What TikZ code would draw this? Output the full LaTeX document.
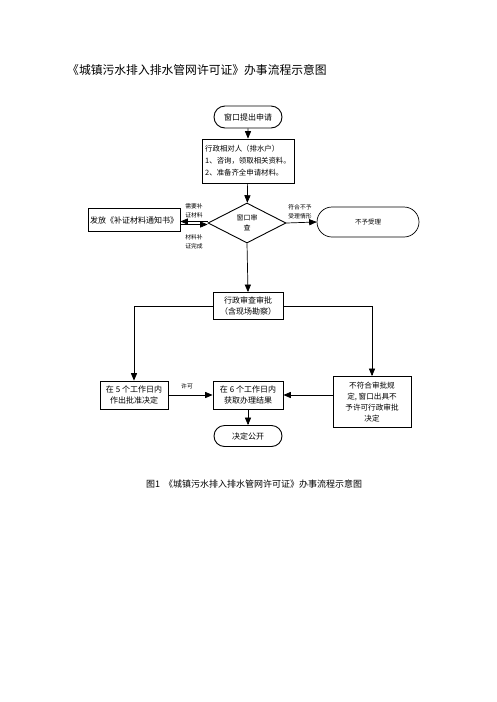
\documentclass[tikz,border=0pt]{standalone}
\usepackage{fontspec}
\setmainfont{Noto Sans CJK SC}
\usetikzlibrary{arrows,shapes.geometric,shapes.misc}

\begin{document}
\begin{tikzpicture}[x=1pt,y=-1pt,>=triangle 45]
			\tikzstyle{box} = [rectangle,draw=black,line width=0.9pt,inner sep=1pt,align=center,font=\fontsize{8}{11.5}\selectfont];
			\tikzstyle{terminal} = [rounded rectangle,draw=black,line width=0.9pt,inner sep=1pt,font=\fontsize{8}{10}\selectfont];
			\tikzstyle{lbl} = [inner sep=0pt,align=left,font=\fontsize{5.8}{9.5}\selectfont];
			\tikzstyle{line} = [line width=0.7pt];
			\useasboundingbox (0,0) rectangle (496,702);
			\node[inner sep=0pt,anchor=west,font=\fontsize{11.8}{13}\selectfont] (title) at (67,70) {《城镇污水排入排水管网许可证》办事流程示意图};
			\node[terminal,minimum width=70pt,minimum height=22pt] (start) at (248,117) {窗口提出申请};
			\node[box,minimum width=92pt,minimum height=44pt,align=left,font=\fontsize{7.4}{12}\selectfont] (apply) at (248,161) {行政相对人（排水户）\\1、咨询，领取相关资料。\\2、准备齐全申请材料。};
			\node[diamond,draw=black,line width=0.9pt,minimum width=78pt,minimum height=40pt,inner sep=0pt,align=center,font=\fontsize{7}{10}\selectfont] (check) at (247,223) {窗口审\\查};
			\node[box,minimum width=92pt,minimum height=23pt] (notice) at (134,220) {发放《补证材料通知书》};
			\node[terminal,minimum width=104pt,minimum height=30pt,line width=0.7pt,font=\fontsize{6.5}{9}\selectfont] (reject) at (368,222) {不予受理};
			\node[box,minimum width=70pt,minimum height=27pt] (review) at (248,306) {行政审查审批\\（含现场勘察）};
			\node[box,minimum width=68pt,minimum height=28pt] (approve) at (134,395) {在 5 个工作日内\\作出批准决定};
			\node[box,minimum width=70pt,minimum height=28pt] (result) at (248,395) {在 6 个工作日内\\获取办理结果};
			\node[box,minimum width=78pt,minimum height=51pt,font=\fontsize{7.6}{11}\selectfont] (deny) at (372,402) {不符合审批规\\定, 窗口出具不\\予许可行政审批\\决定};
			\node[terminal,minimum width=70pt,minimum height=21pt] (publish) at (248,436) {决定公开};
			\node[lbl] (need) at (194,211) {需要补\\证材料};
			\node[lbl] (done) at (194,242) {材料补\\证完成};
			\node[lbl] (match) at (300,212) {符合不予\\受理情形};
			\node[lbl] (permit) at (187,386) {许可};
			\node[inner sep=0pt,anchor=west,font=\fontsize{9}{10}\selectfont] (caption) at (146,484) {图1\ \ 《城镇污水排入排水管网许可证》办事流程示意图};
			\draw[->,line] (start) -- (apply);
			\draw[->,line] (apply) -- (check);
			\draw[->,line] ([yshift=1.5pt]check.west) -- ([yshift=1.5pt]check.west -| notice.east);
			\draw[->,line] ([yshift=-1.5pt]check.west -| notice.east) -- ([yshift=-1.5pt]check.west);
			\draw[->,line] (check.east) -- (reject.west);
			\draw[->,line] (check.south) -- (review.north);
			\draw[->,line] (review.west) -| (approve.north);
			\draw[->,line] (review.east) -| (deny.north);
			\draw[->,line] (approve.east) -- (result.west);
			\draw[->,line] (deny.west |- result.east) -- (result.east);
			\draw[->,line] (result) -- (publish);
		\end{tikzpicture}
\end{document}
